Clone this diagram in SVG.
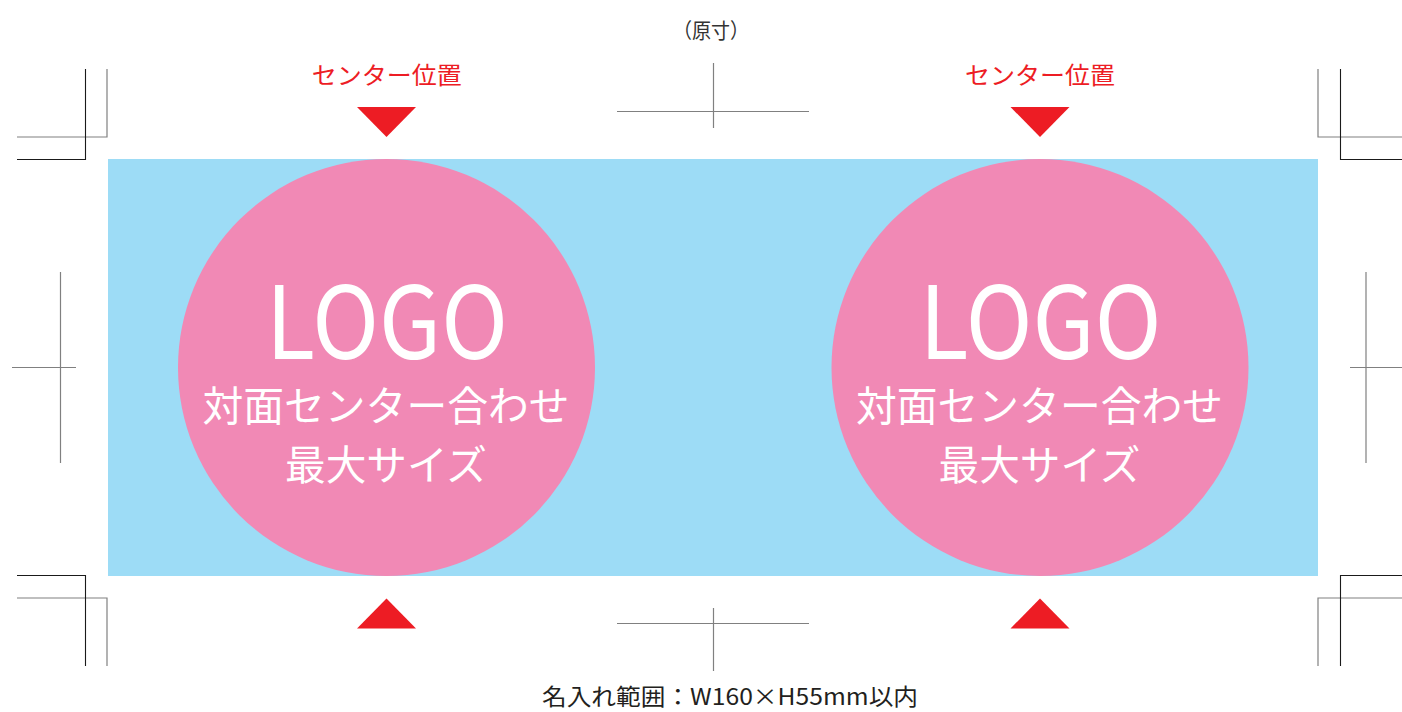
<svg xmlns="http://www.w3.org/2000/svg" width="1402" height="712" viewBox="0 0 1402 712">
<style>
.g{stroke:#808080;stroke-width:1.2;fill:none}
.k{stroke:#1a1a1a;stroke-width:1.1;fill:none}
.jp{font-family:"Noto Sans CJK JP","Noto Sans",sans-serif}
.red{fill:#ED1C24}
.w{fill:#ffffff;text-anchor:middle}
</style>
<rect width="1402" height="712" fill="#ffffff"/>
<g id="background">
<rect x="108" y="159" width="1210" height="417" fill="#9DDCF6"/>
</g>
<g id="crop-marks">
<path class="g" d="M107 69V137H17M1318 69V137H1402M107 666V598H17M1318 666V598H1402"/>
<path class="k" d="M85.5 69V159.5H17M1340.5 69V159.5H1402M85.5 666V575.5H17M1340.5 666V575.5H1402"/>
<path class="g" d="M713.5 63V128M617 111.5H809M713.5 608V671M617 623.5H809"/>
<path class="g" d="M60.5 272V463M12 367.5H76M1366 272V463M1350 367.5H1402"/>
</g>
<g id="logo-left">
<circle cx="386.5" cy="367.5" r="208.5" fill="#F189B5"/>
<text class="jp w" x="387" y="359" font-size="101" font-weight="400" textLength="242" lengthAdjust="spacingAndGlyphs">LOGO</text>
<text class="jp w" x="386" y="421" font-size="41" textLength="367" lengthAdjust="spacingAndGlyphs">対面センター合わせ</text>
<text class="jp w" x="386" y="480" font-size="41" textLength="202" lengthAdjust="spacingAndGlyphs">最大サイズ</text>
</g>
<g id="logo-right">
<circle cx="1040" cy="367.5" r="208.5" fill="#F189B5"/>
<text class="jp w" x="1040.5" y="359" font-size="101" font-weight="400" textLength="242" lengthAdjust="spacingAndGlyphs">LOGO</text>
<text class="jp w" x="1039.5" y="421" font-size="41" textLength="367" lengthAdjust="spacingAndGlyphs">対面センター合わせ</text>
<text class="jp w" x="1039.5" y="480" font-size="41" textLength="202" lengthAdjust="spacingAndGlyphs">最大サイズ</text>
</g>
<g id="center-left">
<text class="jp red" x="386.7" y="84" font-size="24" text-anchor="middle" textLength="150" lengthAdjust="spacingAndGlyphs">センター位置</text>
<polygon class="red" points="357,107 416,107 386.5,137"/>
<polygon class="red" points="357,628.5 416,628.5 386.5,598.5"/>
</g>
<g id="center-right">
<text class="jp red" x="1040" y="84" font-size="24" text-anchor="middle" textLength="150" lengthAdjust="spacingAndGlyphs">センター位置</text>
<polygon class="red" points="1010.5,107 1069.5,107 1040,137"/>
<polygon class="red" points="1010.5,628.5 1069.5,628.5 1040,598.5"/>
</g>
<g id="labels">
<text class="jp" x="711" y="38" font-size="21" fill="#333333" text-anchor="middle" textLength="76" lengthAdjust="spacingAndGlyphs">（原寸）</text>
<text class="jp" x="730" y="705" font-size="23" fill="#231F20" text-anchor="middle" textLength="376" lengthAdjust="spacingAndGlyphs">名入れ範囲：W160×H55mm以内</text>
</g>
</svg>
